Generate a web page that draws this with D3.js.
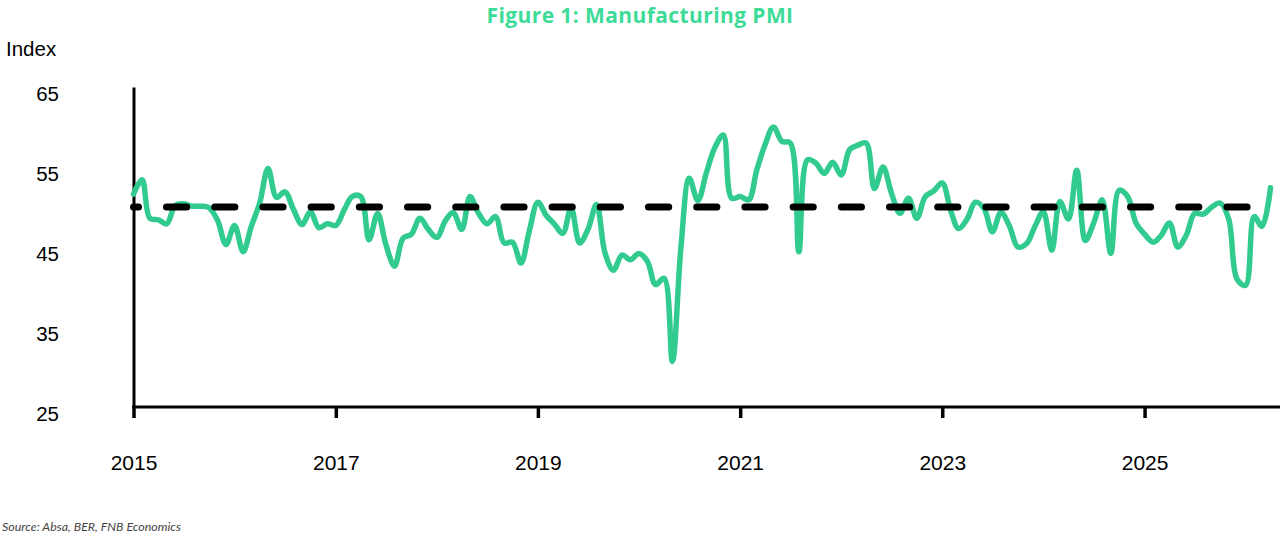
<!DOCTYPE html>
<html>
<head>
<meta charset="utf-8">
<script src="https://cdn.jsdelivr.net/npm/d3@7"></script>
<style>
  body { margin: 0; background: #fff; }
  svg { display: block; }
</style>
</head>
<body>
<div id="chart"></div>
<script>
// monthly index, Jan 2015 onwards
const firstMonth = new Date(2015, 0, 1);
const pmi = [
  51.6, 53.4, 48.6, 48.4, 47.9, 50.2, 50.4, 50.1, 50.1, 49.9, 48.3, 45.3,
  47.7, 44.4, 47.5, 50.5, 54.8, 51.2, 51.9, 49.7, 47.8, 49.4, 47.4, 47.9,
  47.7, 49.7, 51.3, 51.3, 45.9, 49.2, 45.3, 42.6, 46.1, 46.6, 48.6, 47.2,
  46.2, 48.3, 49.3, 47.2, 51.3, 49.2, 47.9, 48.8, 45.5, 45.6, 43.0, 47.0,
  50.6, 48.9, 47.9, 46.7, 49.9, 45.5, 47.2, 50.3, 44.2, 42.1, 44.0, 43.4,
  44.2, 43.2, 40.3, 41.1, 30.7, 45.0, 53.6, 50.8, 54.3, 57.4, 59.0, 51.1,
  51.3, 50.9, 54.5, 57.8, 60.0, 58.2, 58.0, 44.4, 55.9, 55.5, 54.2, 55.6,
  54.0, 57.2, 57.7, 58.0, 52.3, 55.0, 51.8, 49.2, 51.1, 48.6, 51.3, 52.0,
  53.0, 49.5, 47.3, 48.5, 50.6, 49.8, 46.9, 49.3, 47.6, 45.0, 45.4, 47.5,
  49.4, 44.6, 50.7, 48.5, 54.6, 45.8, 48.0, 50.9, 44.2, 52.1, 51.3, 48.0,
  46.6, 45.6, 46.4, 48.0, 45.0, 46.5, 49.2, 49.1, 50.0, 50.5, 48.5, 41.0,
  40.2, 48.8, 47.6, 52.4
];
const benchmark = 50;
const yTicks = [25, 35, 45, 55, 65];
const xTickYears = [2015, 2017, 2019, 2021, 2023, 2025];

const width = 1280;
const height = 536;
const green = "#31cb8f";

const data = pmi.map((v, i) => ({date: d3.timeMonth.offset(firstMonth, i), value: v}));

const x = d3.scaleTime()
  .domain(d3.extent(data, d => d.date))
  .range([133.5, 1270.5]);
const y = d3.scaleLinear()
  .domain([25, 65])
  .range([407, 87]);

const svg = d3.select("#chart").append("svg")
  .attr("width", width)
  .attr("height", height);

// title
svg.append("text")
  .attr("x", 640)
  .attr("y", 22.5)
  .attr("text-anchor", "middle")
  .attr("font-family", "Open Sans")
  .attr("font-weight", 700)
  .attr("font-size", 21)
  .attr("letter-spacing", 0.4)
  .attr("fill", "#3ddb98")
  .text("Figure 1: Manufacturing PMI");

svg.append("text")
  .attr("x", 6)
  .attr("y", 56)
  .attr("font-family", "Liberation Sans, Arial")
  .attr("font-size", 20.5)
  .attr("fill", "#000")
  .text("Index");

// y axis
svg.append("g")
  .attr("transform", `translate(${x.range()[0]},0)`)
  .call(d3.axisLeft(y).tickValues(yTicks).tickSize(0).tickSizeOuter(0).tickPadding(74.5))
  .call(g => g.select(".domain").attr("stroke", "#000").attr("stroke-width", 3))
  .call(g => g.selectAll(".tick text")
      .attr("dy", "0.64em")
      .attr("font-family", "Liberation Sans, Arial")
      .attr("font-size", 20.5)
      .attr("fill", "#000"));

// x axis
svg.append("g")
  .attr("transform", `translate(0,${y(25)})`)
  .call(d3.axisBottom(x)
      .tickValues(xTickYears.map(yr => new Date(yr, 0, 1)))
      .tickFormat(d3.timeFormat("%Y"))
      .tickSize(11)
      .tickSizeOuter(0)
      .tickPadding(37))
  .call(g => g.select(".domain").remove())
  .call(g => g.append("line")
      .attr("x1", x.range()[0] - 1.5)
      .attr("x2", width)
      .attr("stroke", "#000")
      .attr("stroke-width", 3))
  .call(g => g.selectAll(".tick line").attr("stroke", "#000").attr("stroke-width", 3.5))
  .call(g => g.selectAll(".tick text")
      .attr("font-family", "Liberation Sans, Arial")
      .attr("font-size", 21)
      .attr("fill", "#000"));

// PMI line
const line = d3.line()
  .x(d => x(d.date))
  .y(d => y(d.value))
  .curve(d3.curveCatmullRom.alpha(0.5));

svg.append("path")
  .datum(data)
  .attr("fill", "none")
  .attr("stroke", green)
  .attr("stroke-width", 5.5)
  .attr("stroke-linejoin", "round")
  .attr("stroke-linecap", "round")
  .attr("d", line);

// 50 mark
svg.append("line")
  .attr("x1", x(data[0].date))
  .attr("x2", x(data[data.length - 1].date))
  .attr("y1", y(benchmark))
  .attr("y2", y(benchmark))
  .attr("stroke", "#000")
  .attr("stroke-width", 7)
  .attr("stroke-linecap", "round")
  .attr("stroke-dasharray", "20.2 28")
  .attr("stroke-dashoffset", 15.2);

svg.append("text")
  .attr("x", 2)
  .attr("y", 531)
  .attr("font-family", "Lato")
  .attr("font-style", "italic")
  .attr("font-size", 12.4)
  .attr("fill", "#444")
  .text("Source: Absa, BER, FNB Economics");
</script>
</body>
</html>
